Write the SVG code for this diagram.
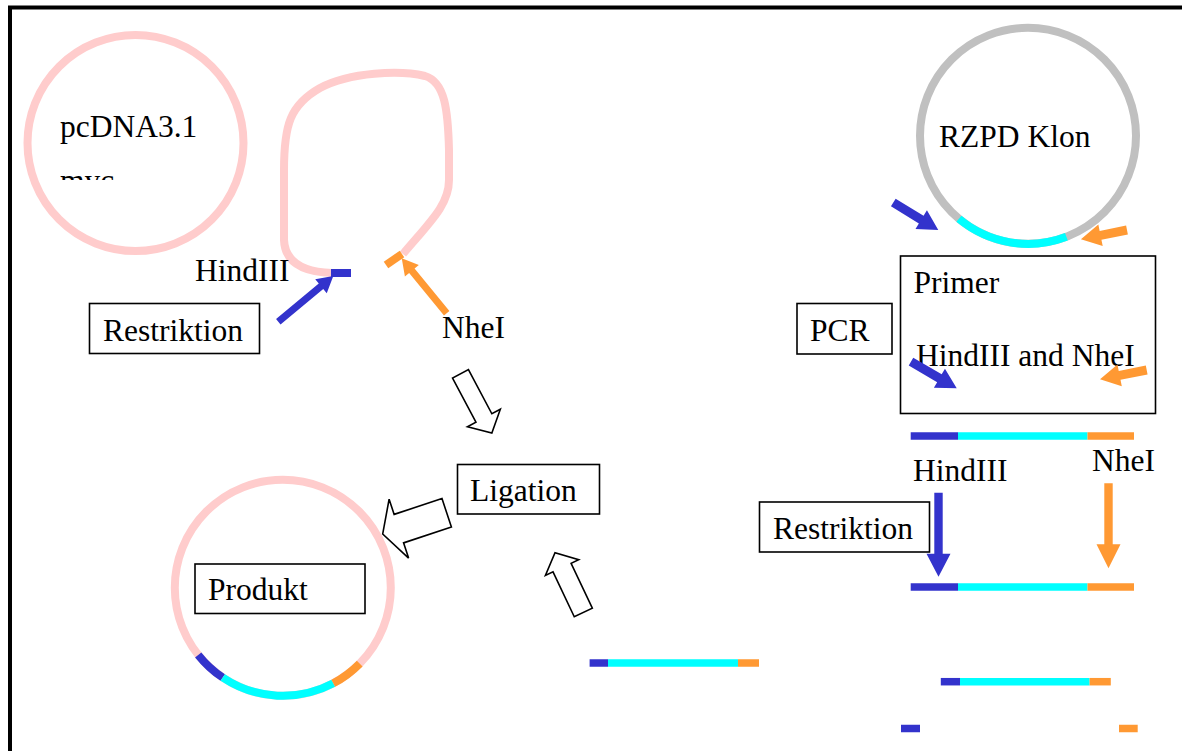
<svg xmlns="http://www.w3.org/2000/svg" width="1182" height="751" viewBox="0 0 1182 751">
<style>
text{font-family:"Liberation Serif","Times New Roman",serif;font-size:31.5px;fill:#000}
.box{fill:#fff;stroke:#000;stroke-width:1.6}
.pink{fill:none;stroke:#ffcccc;stroke-width:8}
.gray{fill:none;stroke:#c0c0c0;stroke-width:8}
.seg{fill:none;stroke-width:8}
.bar{fill:none;stroke-width:7.5}
.b{stroke:#3333cc}
.c{stroke:#00ffff}
.o{stroke:#ff9933}
.fb{fill:#3333cc}
.fo{fill:#ff9933}
.hollow{fill:#fff;stroke:#000;stroke-width:1.6;stroke-linejoin:miter}
</style>
<defs>
<clipPath id="clipMyc"><rect x="0" y="0" width="300" height="180"/></clipPath>
</defs>
<rect x="0" y="0" width="1182" height="751" fill="#fff"/>
<rect id="frame" x="10" y="7.5" width="1200" height="800" fill="none" stroke="#000" stroke-width="4"/>

<g id="pcdna">
<circle class="pink" cx="135.5" cy="143" r="108"/>
<text x="60" y="137">pcDNA3.1</text>
<text x="60" y="191" clip-path="url(#clipMyc)">myc</text>
</g>

<g id="open-vector">
<path class="pink" d="M332,273 C302,272 285,262 284,240 L284,170 C284,125 290,105 320,88 C350,72 400,70 425,76 C445,82 448,110 449,150 L449,180 C449,205 430,222 403,254"/>
<line class="seg b" x1="331" y1="273" x2="351" y2="273" stroke-width="7.5"/>
<line class="seg o" x1="386" y1="265" x2="402" y2="254" stroke-width="7.5"/>
<text x="195" y="281">HindIII</text>
<text x="442" y="338">NheI</text>
</g>

<g id="restriktion-left">
<rect class="box" x="89.5" y="303.5" width="170" height="50"/>
<text x="103" y="341">Restriktion</text>
</g>

<g id="rzpd">
<circle class="gray" cx="1028" cy="135.8" r="108"/>
<path class="seg c" d="M958.9,218.8 A108,108 0 0 0 1066.4,236.8"/>
<text x="939" y="147">RZPD Klon</text>
</g>

<g id="pcr">
<rect class="box" x="797" y="303.5" width="95" height="50.5"/>
<text x="810" y="341">PCR</text>
</g>

<g id="primer">
<rect class="box" x="900.5" y="256" width="255" height="157.5"/>
<text x="913.5" y="293">Primer</text>
<text x="916" y="366">HindIII and NheI</text>
</g>

<g id="pcr-product">
<line class="bar b" x1="910.7" y1="436" x2="958" y2="436"/>
<line class="bar c" x1="958" y1="436" x2="1087.5" y2="436"/>
<line class="bar o" x1="1087.5" y1="436" x2="1134" y2="436"/>
<text x="913" y="481">HindIII</text>
<text x="1092" y="471">NheI</text>
</g>

<g id="restriktion-right">
<rect class="box" x="759.5" y="502" width="170" height="50"/>
<text x="773" y="538.5">Restriktion</text>
</g>

<g id="cut-product">
<line class="bar b" x1="910.7" y1="587" x2="958" y2="587"/>
<line class="bar c" x1="958" y1="587" x2="1087.5" y2="587"/>
<line class="bar o" x1="1087.5" y1="587" x2="1134" y2="587"/>
</g>

<g id="insert">
<line class="bar b" x1="589.6" y1="663" x2="608" y2="663"/>
<line class="bar c" x1="608" y1="663" x2="738" y2="663"/>
<line class="bar o" x1="738" y1="663" x2="759" y2="663"/>
</g>

<g id="fragment">
<line class="bar b" x1="940.8" y1="681.7" x2="960" y2="681.7"/>
<line class="bar c" x1="960" y1="681.7" x2="1089.6" y2="681.7"/>
<line class="bar o" x1="1089.6" y1="681.7" x2="1110.8" y2="681.7"/>
</g>

<g id="ends">
<line class="bar b" x1="901" y1="728.5" x2="920" y2="728.5"/>
<line class="bar o" x1="1119" y1="728.5" x2="1137.7" y2="728.5"/>
</g>

<g id="ligation">
<rect class="box" x="457.5" y="464.5" width="142" height="49.5"/>
<text x="470" y="501">Ligation</text>
</g>

<g id="produkt">
<circle class="pink" cx="282.8" cy="587.8" r="108"/>
<path class="seg b" d="M198.2,654.9 A108,108 0 0 0 222.7,677.5"/>
<path class="seg c" d="M222.7,677.5 A108,108 0 0 0 333.3,683.3"/>
<path class="seg o" d="M333.3,683.3 A108,108 0 0 0 359.7,663.6"/>
<rect class="box" x="195" y="564" width="170" height="49.5"/>
<text x="208" y="599.5">Produkt</text>
</g>

<g id="connectors">
<polygon class="fb" transform="translate(278.3,321.7) rotate(-39.7)" points="0,-3.5 55.5,-3.5 55.5,-9 71.5,0 55.5,9 55.5,3.5 0,3.5"/>
<polygon class="fo" transform="translate(446.7,313.3) rotate(-129.3)" points="0,-3.5 55,-3.5 55,-9 71,0 55,9 55,3.5 0,3.5"/>
<polygon class="fb" transform="translate(893.3,202.5) rotate(31.4)" points="0,-4.5 32.7,-4.5 32.7,-11 52.7,0 32.7,11 32.7,4.5 0,4.5"/>
<polygon class="fo" transform="translate(1127,230) rotate(168.6)" points="0,-4.5 27,-4.5 27,-11 47,0 27,11 27,4.5 0,4.5"/>
<polygon class="fb" transform="translate(911,361.7) rotate(30.2)" points="0,-4.5 32.9,-4.5 32.9,-11 52.9,0 32.9,11 32.9,4.5 0,4.5"/>
<polygon class="fo" transform="translate(1146.7,370) rotate(168.7)" points="0,-4.5 27.6,-4.5 27.6,-11 47.6,0 27.6,11 27.6,4.5 0,4.5"/>
<polygon class="fb" points="934.3,492.7 942.7,492.7 942.7,553.7 950.5,553.7 938.5,576.7 926.5,553.7 934.3,553.7"/>
<polygon class="fo" points="1104.3,483.3 1112.7,483.3 1112.7,544.3 1120.5,544.3 1108.5,568.3 1096.5,544.3 1104.3,544.3"/>
<polygon class="hollow" transform="translate(460.5,373.8) rotate(62.1)" points="0,-9 50,-9 50,-18.6 67,0 50,18.6 50,9 0,9"/>
<polygon class="hollow" transform="translate(446.7,512.8) rotate(161.7)" points="0,-15 50.4,-15 50.4,-31 67.4,0 50.4,31 50.4,15 0,15"/>
<polygon class="hollow" transform="translate(583.3,612.5) rotate(-115.3)" points="0,-10 49.7,-10 49.7,-18.4 66.2,0 49.7,18.4 49.7,10 0,10"/>
</g>
</svg>
